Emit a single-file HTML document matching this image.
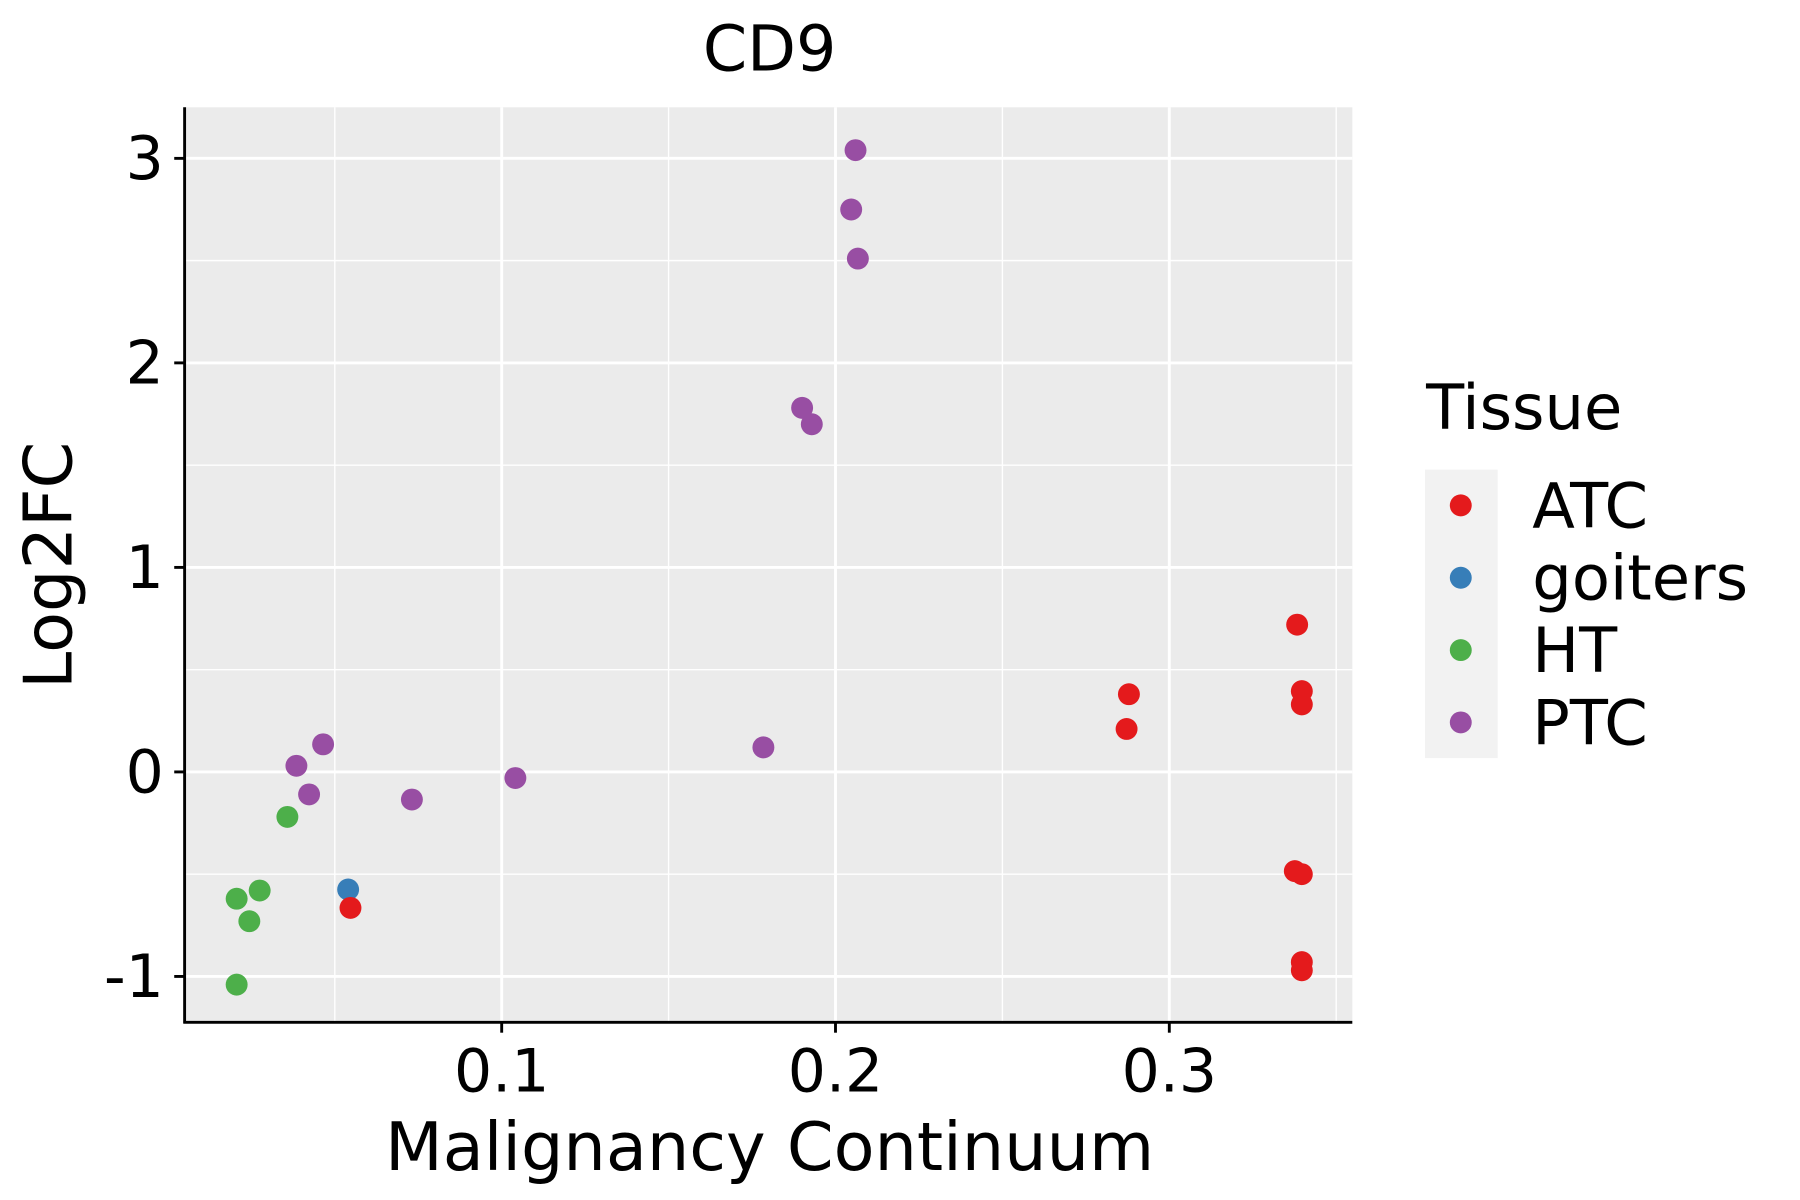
<!DOCTYPE html>
<html><head><meta charset="utf-8"><style>html,body{margin:0;padding:0;background:#fff}svg{display:block}text{font-family:"DejaVu Sans","Liberation Sans",sans-serif}</style></head>
<body>
<svg id="chart" width="1800" height="1200" viewBox="0 0 1560 1040" xmlns="http://www.w3.org/2000/svg">
<rect width="1560" height="1040" fill="#fff"/>
<text x="667" y="61" font-size="55" text-anchor="middle">CD9</text>
<rect x="160" y="93" width="1012" height="793" fill="#ebebeb"/>
<g id="grid"></g>
<g id="points"></g>
<line x1="160" y1="93" x2="160" y2="887" stroke="#000" stroke-width="2.5"/>
<line x1="159" y1="886" x2="1172" y2="886" stroke="#000" stroke-width="2.5"/>
<g id="ticks"></g>
<text x="667" y="1014" font-size="58" text-anchor="middle">Malignancy Continuum</text>
<text transform="translate(62,490) rotate(-90)" font-size="58" text-anchor="middle">Log2FC</text>
<g>
<text x="1236" y="372" font-size="54">Tissue</text>
<rect x="1235" y="407" width="63" height="250" fill="#f2f2f2"/>
<g id="legend-items"></g>
</g>
</svg>
<script>
const categories = ["ATC","goiters","HT","PTC"];
const colors = ["#e41a1c","#377eb8","#4daf4a","#984ea3"];
const xTicks = [0.1,0.2,0.3];
const yTicks = [-1,0,1,2,3];
const ptcX = [0.206,0.2047,0.2067,0.190,0.1929,0.1784,0.1041,0.0731,0.0465,0.0385,0.0423];
const ptcY = [3.04,2.75,2.51,1.78,1.70,0.12,-0.03,-0.135,0.135,0.03,-0.11];
const htX = [0.0358,0.0275,0.0206,0.0244,0.0206];
const htY = [-0.22,-0.58,-0.62,-0.73,-1.04];
const goitersX = [0.0540];
const goitersY = [-0.575];
const atcX = [0.0547,0.2879,0.2872,0.3383,0.3397,0.3397,0.3376,0.3397,0.3397,0.3397];
const atcY = [-0.665,0.38,0.21,0.72,0.395,0.33,-0.485,-0.50,-0.93,-0.97];

const NS="http://www.w3.org/2000/svg";
const sx = v => 145.5 + v*2893;
const sy = v => 669 - v*177.25;
function mk(tag, attrs){const e=document.createElementNS(NS,tag);for(const k in attrs)e.setAttribute(k,attrs[k]);return e;}
const grid=document.getElementById('grid');
[0.05,0.15,0.25,0.35].forEach(v=>{const l=mk('line',{x1:sx(v),x2:sx(v),y1:93,y2:886,stroke:'#fff','stroke-width':1.2});

grid.appendChild(l);});
[-0.5,0.5,1.5,2.5].forEach(v=>{const l=mk('line',{x1:160,x2:1172,y1:sy(v),y2:sy(v),stroke:'#fff','stroke-width':1.2});

grid.appendChild(l);});
xTicks.forEach(v=>{const l=mk('line',{x1:sx(v),x2:sx(v),y1:93,y2:886,stroke:'#fff','stroke-width':2.5});

grid.appendChild(l);});
yTicks.forEach(v=>{const l=mk('line',{x1:160,x2:1172,y1:sy(v),y2:sy(v),stroke:'#fff','stroke-width':2.5});

grid.appendChild(l);});
const ticks=document.getElementById('ticks');
xTicks.forEach(v=>{const l=mk('line',{x1:sx(v),x2:sx(v),y1:886,y2:895,stroke:'#000','stroke-width':2.5});

ticks.appendChild(l);
const t=mk('text',{x:sx(v),y:946,'font-size':52,'text-anchor':'middle'});t.textContent=String(v);

ticks.appendChild(t);});
yTicks.forEach(v=>{const l=mk('line',{x1:151,x2:160,y1:sy(v),y2:sy(v),stroke:'#000','stroke-width':2.5});

ticks.appendChild(l);
const t=mk('text',{x:142,y:sy(v)+18,'font-size':52,'text-anchor':'end'});t.textContent=String(v);

ticks.appendChild(t);});
const pts=document.getElementById('points');
const series=[[ptcX,ptcY,3],[htX,htY,2],[goitersX,goitersY,1],[atcX,atcY,0]];
series.forEach(([xs,ys,ci])=>{xs.forEach((x,i)=>{const c=mk('circle',{cx:sx(x),cy:sy(ys[i]),r:9.5,fill:colors[ci]});

pts.appendChild(c);});});
const li=document.getElementById('legend-items');
categories.forEach((c,i)=>{const y=438+i*62.7;
const k=mk('circle',{cx:1266,cy:y,r:9.5,fill:colors[i]});

li.appendChild(k);
const t=mk('text',{x:1328,y:y+19,'font-size':54});t.textContent=c;

li.appendChild(t);});
</script>
</body></html>
